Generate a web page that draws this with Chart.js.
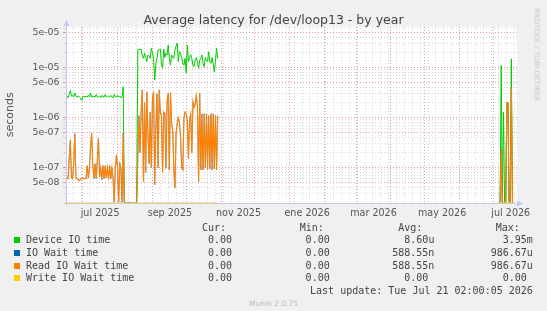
<!DOCTYPE html>
<html>
<head>
<meta charset="utf-8">
<title>Average latency for /dev/loop13 - by year</title>
<script src="https://cdn.jsdelivr.net/npm/chart.js"></script>
<style>
  html, body { margin: 0; padding: 0; background: #f0f0f0; }
  #wrap { position: relative; width: 547px; height: 311px; overflow: hidden; background: #f0f0f0; }
  #wrap canvas { position: absolute; left: 0; top: 0; }
  .t { position: absolute; white-space: pre; color: #444; }
  .title { left: 0; width: 547px; top: 12px; text-align: center; font: 12.5px 'DejaVu Sans'; line-height: 16px; color: #444; }
  .mono { font: 10px 'DejaVu Sans Mono'; line-height: 12px; }
  .sq { position: absolute; width: 6px; height: 6px; }
  .side { position: absolute; left: 536.7px; top: 55px; transform-origin: 0 0; transform: rotate(90deg) translate(-50%, -50%);
          font: 7.2px 'DejaVu Sans'; color: #c4c4c4; white-space: pre; }
  .ver { left: 0; width: 547px; top: 299px; text-align: center; font: 7.5px 'DejaVu Sans'; line-height: 9px; color: #bbb; }
</style>
</head>
<body>
<div id="wrap">
  <canvas id="c" width="547" height="311"></canvas>
  <div class="t title">Average latency for /dev/loop13 - by year</div>
  <div class="side">RRDTOOL / TOBI OETIKER</div>
  <div class="t ver">Munin 2.0.75</div>
</div>

<script>
// x values are days counted from 1 jul 2025
const summerStart = -15;
const julyStart = 370;

const deviceSummer = [
  2.6e-6, 2.7e-6, 2.5e-6, 2.9e-6, 3.5e-6, 2.7e-6, 2.8e-6, 2.6e-6, 3.1e-6, 2.7e-6,
  2.6e-6, 2.7e-6, 2.6e-6, 2.5e-6, 2.2e-6, 2.6e-6, 2.7e-6, 2.6e-6, 2.7e-6, 2.6e-6,
  2.8e-6, 2.6e-6, 3.1e-6, 2.6e-6, 2.6e-6, 2.7e-6, 2.6e-6, 2.9e-6, 2.6e-6, 2.6e-6,
  2.7e-6, 2.5e-6, 2.8e-6, 2.6e-6, 2.6e-6, 2.9e-6, 2.6e-6, 2.7e-6, 2.6e-6, 2.6e-6,
  2.8e-6, 2.6e-6, 2.5e-6, 2.9e-6, 2.6e-6, 2.6e-6, 2.8e-6, 2.6e-6, 2.7e-6, 2.5e-6,
  2.6e-6, 4.2e-6,
  0, 0, 0, 0, 0, 0, 0, 0, 0, 0, 0, 0,
  2.3e-5, 2.36e-5, 2.3e-5, 2.36e-5, 1.7e-5, 1.54e-5, 1.94e-5, 1.6e-5, 1.32e-5, 1.8e-5,
  1.7e-5, 1.54e-5, 2.44e-5, 2.0e-5, 1.54e-5, 5.7e-6, 1.2e-5, 1.54e-5, 2.26e-5, 2.3e-5,
  2.36e-5, 1.2e-5, 9.7e-6, 2.36e-5, 1.6e-5, 1.94e-5, 1.8e-5, 2.84e-5, 1.6e-5, 1.13e-5,
  1.8e-5, 1.6e-5, 1.54e-5, 2.26e-5, 2.7e-5, 3.1e-5, 1.32e-5, 2.1e-5, 1.9e-5, 1.6e-5,
  1.2e-5, 1.13e-5, 1.54e-5, 7.7e-6, 2.84e-5, 1.32e-5, 1.6e-5, 1.8e-5, 1.54e-5, 1.1e-5,
  1.05e-5, 1.43e-5, 1.6e-5, 1.3e-5, 9.7e-6, 1.4e-5, 1.54e-5, 1.8e-5, 1.2e-5, 1.05e-5,
  1.6e-5, 1.4e-5, 1.32e-5, 2.1e-5, 1.3e-5, 1.22e-5, 1.6e-5, 1.2e-5, 8.3e-6, 1.32e-5,
  2.44e-5, 1.54e-5
];
const readSummer = [
  6.2e-8, 6.2e-8, 6.0e-8, 1.5e-7, 3.6e-7, 6.3e-8, 6.0e-8, 1.2e-7, 4.8e-7, 6.2e-8,
  6.0e-8, 5.8e-8, 5.5e-8, 5.8e-8, 6.2e-8, 6.0e-8, 6.1e-8, 6.1e-8, 6.0e-8, 1.1e-7,
  6.2e-8, 1.0e-7, 2.5e-7, 4.9e-7, 1.1e-7, 6.0e-8, 1.2e-7, 6.0e-8, 1.4e-7, 3.9e-7,
  6.5e-8, 1.0e-7, 5.8e-8, 1.1e-7, 6.0e-8, 1.1e-7, 6.2e-8, 1.0e-7, 5.8e-8, 1.1e-7,
  6.0e-8, 1.0e-7, 6.0e-8, 0, 1.0e-7, 1.8e-7, 1.0e-7, 0, 1.2e-7, 1.0e-7,
  0, 4.9e-7,
  0, 0, 0, 0, 0, 0, 0, 0, 0, 0, 0, 0,
  1.7e-7, 1.1e-6, 2.0e-7, 1.5e-6, 3.6e-6, 5.3e-8, 2.0e-6, 8.0e-8, 3.3e-6, 5.0e-7,
  1.2e-7, 1.3e-6, 1.0e-7, 2.4e-6, 3.3e-6, 4.5e-8, 6.0e-7, 3.0e-6, 1.0e-7, 3.6e-6,
  1.2e-6, 1.2e-6, 8.0e-8, 1.3e-6, 1.2e-6, 9.7e-8, 2.0e-6, 3.1e-6, 9.0e-8, 3.2e-6,
  8.0e-7, 5.5e-7, 9.0e-8, 3.9e-8, 5.0e-7, 7.5e-7, 1.0e-6, 8.0e-7, 4.0e-7, 1.0e-7,
  9.0e-8, 1.0e-6, 1.3e-6, 1.2e-6, 9.0e-7, 1.5e-7, 9.0e-7, 1.2e-6, 2.0e-7, 2.1e-6,
  1.6e-6, 1.9e-6, 2.8e-6, 1.6e-6, 5.3e-8, 3.1e-6, 9.0e-8, 1.2e-6, 9.0e-8, 1.2e-6,
  1.0e-7, 1.2e-6, 9.0e-8, 1.1e-6, 9.5e-8, 1.2e-6, 9.0e-8, 1.2e-6, 9.5e-8, 1.1e-6,
  9.0e-8, 1.1e-6
];
const ioWaitSummer = readSummer;
const writeSummer = [
  0, 0, 0, 0, 0, 0, 0, 0, 0, 0, 0, 0, 0, 0, 0, 0, 0, 0, 0, 0, 0, 0, 0, 0, 0, 0, 0, 0, 0, 0, 0, 0, 0, 0,
  0, 0, 0, 0, 0, 0, 0, 0, 0, 0, 0, 0, 0, 0, 0, 0, 0, 0, 0, 0, 0, 0, 0, 0, 0, 0, 0, 0, 0, 0, 0, 0, 0, 0,
  0, 0, 0, 0, 0, 0, 0, 0, 0, 0, 0, 0, 0, 0, 0, 0, 0, 0, 0, 0, 0, 0, 0, 0, 0, 0, 0, 0, 0, 0, 0, 0, 0, 0,
  0, 0, 0, 0, 0, 0, 0, 0, 0, 0, 0, 0, 0, 0, 0, 0, 0, 0, 0, 0, 0, 0, 0, 0, 0, 0, 0, 0, 0, 0, 0, 0, 0, 0
];

const deviceJuly = [0, 0, 1.1e-5, 0, 1.3e-6, 0, 0, 2.0e-6, 2.0e-6, 0, 0, 1.5e-5, 0, 0];
const readJuly   = [0, 0, 2.4e-7, 0, 0, 0, 0, 2.0e-6, 2.0e-6, 0, 0, 4.0e-6, 0, 0];
const ioWaitJuly = readJuly;
const writeJuly  = [0, 0, 0, 0, 0, 0, 0, 0, 0, 0, 0, 0, 0, 0];

const seriesNames  = ['Device IO time', 'IO Wait time', 'Read IO Wait time', 'Write IO Wait time'];
const seriesColors = ['#00cc00', '#0066b3', '#ff8000', '#ffcc00'];
const curValues = ['0.00', '0.00', '0.00', '0.00'];
const minValues = ['0.00', '0.00', '0.00', '0.00'];
const avgValues = ['8.60u', '588.55n', '588.55n', '0.00 '];
const maxValues = ['3.95m', '986.67u', '986.67u', '0.00 '];
const lastUpdate = 'Last update: Tue Jul 21 02:00:05 2026';

// axis labels
const monthStarts = [0, 31, 62, 92, 123, 153, 184, 215, 243, 274, 304, 335, 365];
const monthLabels = ['jul 2025', 'sep 2025', 'nov 2025', 'ene 2026', 'mar 2026', 'may 2026', 'jul 2026'];
const monthLabelDays = [0, 62, 123, 184, 243, 304, 365];
const yTickLabels = ['5e-08', '1e-07', '5e-07', '1e-06', '5e-06', '1e-05', '5e-05'];

const xMin = -14.84, xMax = 386.04;
const yMin = 2.01e-8, yMax = 6.52e-5;

// a log axis cannot show 0: like rrdtool, a zero sits on the bottom edge
function points(start, vals) {
  return vals.map((v, i) => ({ x: start + i, y: v === 0 ? yMin : v }));
}
function series(summer, july) {
  return points(summerStart, summer).concat([{ x: summerStart + summer.length, y: null }], points(julyStart, july));
}

// x ticks: month starts (major), mondays (minor), labels mid month
const xTicks = [];
for (let d = -8; d < xMax; d += 7) {
  if (!monthStarts.includes(d)) xTicks.push({ value: d, kind: 'minor' });
}
monthStarts.forEach(d => xTicks.push({ value: d, kind: 'major' }));
monthLabelDays.forEach((d, i) => xTicks.push({ value: d + 15.5, kind: 'label', text: monthLabels[i] }));
xTicks.sort((a, b) => a.value - b.value);

// y ticks: 1..9 per decade, labels on 1 and 5
const yTicks = [];
for (let e = -8; e <= -5; e++) {
  for (let m = 1; m <= 9; m++) {
    const v = Number(m + 'e' + e);
    if (v < yMin || v > yMax) continue;
    const lab = yTickLabels.find(s => Math.abs(Number(s) / v - 1) < 1e-9);
    yTicks.push({ value: v, kind: lab ? 'major' : 'minor', text: lab || '' });
  }
}

const red = 'rgba(235,120,120,0.75)';
const grey = 'rgba(190,190,190,0.6)';
const axisColor = '#c2c6f0';

const muninLook = {
  id: 'muninLook',
  beforeDraw(chart) {
    const { ctx, chartArea: a } = chart;
    ctx.save();
    ctx.fillStyle = '#ffffff';
    ctx.fillRect(a.left, a.top, a.right - a.left, a.bottom - a.top + 1);
    ctx.restore();
  },
  afterDatasetsDraw(chart) {
    const { ctx, chartArea: a } = chart;
    const x0 = Math.round(a.left) + 0.5;
    const y0 = Math.round(a.bottom) + 0.5;
    ctx.save();
    ctx.strokeStyle = axisColor;
    ctx.fillStyle = axisColor;
    ctx.lineWidth = 1;
    ctx.beginPath();
    ctx.moveTo(x0, y0 + 2);
    ctx.lineTo(x0, a.top - 3);
    ctx.moveTo(x0 - 3, y0);
    ctx.lineTo(a.right + 2, y0);
    ctx.stroke();
    ctx.beginPath();
    ctx.moveTo(x0, a.top - 7);
    ctx.lineTo(x0 - 3, a.top - 1);
    ctx.lineTo(x0 + 3, a.top - 1);
    ctx.closePath();
    ctx.fill();
    ctx.beginPath();
    ctx.moveTo(a.right + 6, y0);
    ctx.lineTo(a.right, y0 - 3);
    ctx.lineTo(a.right, y0 + 3);
    ctx.closePath();
    ctx.fill();
    ctx.restore();
  }
};

const datasets = [
  { label: seriesNames[0], data: series(deviceSummer, deviceJuly), borderColor: seriesColors[0], order: 4, borderWidth: 1 },
  { label: seriesNames[1], data: series(ioWaitSummer, ioWaitJuly), borderColor: seriesColors[1], order: 3, borderWidth: 0.5 },
  { label: seriesNames[2], data: series(readSummer, readJuly), borderColor: seriesColors[2], order: 2, borderWidth: 1.1 },
  { label: seriesNames[3], data: series(writeSummer, writeJuly), borderColor: seriesColors[3], order: 1, borderWidth: 1 }
].map(ds => Object.assign(ds, { pointRadius: 0, tension: 0, spanGaps: false, fill: false }));

new Chart(document.getElementById('c'), {
  type: 'line',
  data: { datasets: datasets },
  options: {
    responsive: false,
    animation: false,
    events: [],
    layout: { padding: { top: 27, right: 30, left: 0, bottom: 0 } },
    plugins: { legend: { display: false }, tooltip: { enabled: false }, title: { display: false } },
    scales: {
      x: {
        type: 'linear', min: xMin, max: xMax, bounds: 'data',
        afterFit(s) { s.height = 108.5; },
        afterBuildTicks(s) { s.ticks = xTicks; },
        ticks: {
          autoSkip: false, maxRotation: 0, padding: 5, color: '#555',
          font: { family: 'DejaVu Sans', size: 9.6 },
          callback: (v, i, t) => t[i].text || ''
        },
        grid: {
          drawTicks: false, lineWidth: 1,
          color: c => !c.tick ? grey : c.tick.kind === 'major' ? red : c.tick.kind === 'minor' ? grey : 'rgba(0,0,0,0)'
        },
        border: { display: false, dash: [1, 2] }
      },
      y: {
        type: 'logarithmic', min: yMin, max: yMax, bounds: 'data',
        afterFit(s) { s.width = 66; },
        afterBuildTicks(s) { s.ticks = yTicks; },
        ticks: {
          autoSkip: false, padding: 3.5, color: '#555',
          font: { family: 'DejaVu Sans', size: 9.4 },
          callback: (v, i, t) => t[i].text
        },
        grid: {
          drawTicks: true, tickLength: 3, lineWidth: 1,
          color: c => c.tick && c.tick.kind === 'major' ? red : grey,
          tickColor: c => c.tick && c.tick.kind === 'major' ? red : grey
        },
        border: { display: false, dash: [1, 2] },
        title: {
          display: true, text: 'seconds', color: '#555',
          font: { family: 'DejaVu Sans', size: 11 }, padding: { top: 4, bottom: 0 }
        }
      }
    }
  },
  plugins: [muninLook]
});

// legend block under the graph
const wrap = document.getElementById('wrap');
function addText(txt, cls, style) {
  const d = document.createElement('div');
  d.className = 't ' + cls;
  d.textContent = txt;
  Object.assign(d.style, style);
  wrap.appendChild(d);
}
const colRight = [315, 217.3, 112.6, 14.2];
const headRight = [321, 223.2, 124.6, 27.2];
['Cur:', 'Min:', 'Avg:', 'Max:'].forEach((h, j) => addText(h, 'mono', { right: headRight[j] + 'px', top: '221.7px' }));
const rowTop = [234.3, 246.9, 259.5, 272.1];
seriesNames.forEach((name, i) => {
  const sq = document.createElement('div');
  sq.className = 'sq';
  sq.style.left = '14px';
  sq.style.top = (rowTop[i] + 3) + 'px';
  sq.style.background = seriesColors[i];
  wrap.appendChild(sq);
  addText(name, 'mono', { left: '26px', top: rowTop[i] + 'px' });
  [curValues[i], minValues[i], avgValues[i], maxValues[i]].forEach((v, j) =>
    addText(v, 'mono', { right: colRight[j] + 'px', top: rowTop[i] + 'px' }));
});
addText(lastUpdate, 'mono', { right: '14.2px', top: '284.7px' });
</script>
</body>
</html>
